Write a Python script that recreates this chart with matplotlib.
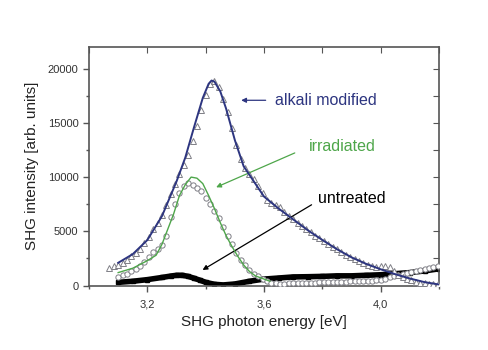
import matplotlib
matplotlib.use("Agg")
import matplotlib.pyplot as plt
from matplotlib.ticker import MultipleLocator, FuncFormatter

plt.rcParams['font.family'] = ['Liberation Sans', 'DejaVu Sans']

# alkali modified: measured points (open triangles) and fit (navy line)
alk_x = [3.070, 3.085, 3.100, 3.115, 3.130, 3.145, 3.160, 3.175, 3.190, 3.205, 3.220, 3.235,
         3.250, 3.265, 3.280, 3.295, 3.310, 3.325, 3.340, 3.355, 3.370, 3.385, 3.400, 3.415,
         3.430, 3.445, 3.460, 3.475, 3.490, 3.505, 3.520, 3.535, 3.550, 3.565, 3.580, 3.595,
         3.610, 3.625, 3.640, 3.655, 3.670, 3.685, 3.700, 3.715, 3.730, 3.745, 3.760, 3.775,
         3.790, 3.805, 3.820, 3.835, 3.850, 3.865, 3.880, 3.895, 3.910, 3.925, 3.940, 3.955,
         3.970, 3.985, 4.000, 4.015, 4.030, 4.045, 4.060, 4.075, 4.090, 4.105, 4.120, 4.135,
         4.150, 4.165, 4.180, 4.195]
alk_y = [1600, 1800, 1900, 2100, 2400, 2700, 3000, 3400, 3900, 4500, 5200, 5800,
         6500, 7400, 8400, 9400, 10300, 11100, 12000, 13300, 14700, 16200, 17600, 18600,
         18900, 18300, 17200, 16000, 14500, 13000, 11700, 10800, 10300, 9800, 9200, 8500,
         7900, 7600, 7400, 7200, 6800, 6400, 6100, 5800, 5500, 5200, 4900, 4600,
         4350, 4150, 3850, 3600, 3350, 3100, 2850, 2650, 2450, 2250, 2050, 1900,
         1800, 1750, 1850, 1850, 1700, 1300, 1000, 800, 650, 500, 350, 250,
         200, 150, 150, 150]
alk_fit_x = [3.10, 3.15, 3.20, 3.25, 3.30, 3.33, 3.36, 3.39, 3.41, 3.42, 3.43, 3.45,
             3.47, 3.50, 3.53, 3.56, 3.60, 3.65, 3.70, 3.75, 3.80, 3.85, 3.90, 3.95,
             4.00, 4.05, 4.10, 4.15, 4.20]
alk_fit_y = [2100, 2900, 4200, 6400, 9600, 11800, 14600, 17300, 18600, 18900, 18800, 17900,
             16300, 13400, 11000, 9800, 8200, 7100, 6100, 5100, 4200, 3350, 2600, 2000,
             1500, 1050, 650, 320, 100]

# irradiated: measured points (open circles) and fit (green line)
irr_x = [3.100, 3.115, 3.130, 3.145, 3.160, 3.175, 3.190, 3.205, 3.220, 3.235, 3.250, 3.265,
         3.280, 3.295, 3.310, 3.325, 3.340, 3.355, 3.370, 3.385, 3.400, 3.415, 3.430, 3.445,
         3.460, 3.475, 3.490, 3.505, 3.520, 3.535, 3.550, 3.565, 3.580, 3.595, 3.610, 3.625,
         3.640, 3.655, 3.670, 3.685, 3.700, 3.715, 3.730, 3.745, 3.760, 3.775, 3.790, 3.805,
         3.820, 3.835, 3.850, 3.865, 3.880, 3.895, 3.910, 3.925, 3.940, 3.955, 3.970, 3.985,
         4.000, 4.015, 4.030, 4.045, 4.060, 4.075, 4.090, 4.105, 4.120, 4.135, 4.150, 4.165,
         4.180, 4.195]
irr_y = [800, 950, 1100, 1300, 1550, 1850, 2200, 2600, 3100, 3400, 3700, 4600,
         6300, 7500, 8500, 9200, 9500, 9300, 9000, 8700, 8100, 7500, 6900, 6200,
         5400, 4600, 3800, 3000, 2400, 1900, 1450, 1100, 850, 600, 400, 250,
         200, 180, 180, 200, 200, 220, 230, 250, 260, 280, 300, 310,
         320, 340, 350, 360, 370, 380, 400, 410, 420, 440, 460, 500,
         550, 650, 750, 850, 950, 1050, 1150, 1250, 1350, 1450, 1550, 1650,
         1750, 1850]
irr_fit_x = [3.10, 3.15, 3.20, 3.23, 3.25, 3.27, 3.29, 3.31, 3.33, 3.35, 3.37, 3.39,
             3.41, 3.43, 3.45, 3.47, 3.49, 3.51, 3.53, 3.55, 3.57, 3.60, 3.62]
irr_fit_y = [1200, 1600, 2300, 2800, 3800, 5200, 6600, 8300, 9300, 10000, 9900, 9400,
             8300, 7100, 5800, 4600, 3600, 2700, 1900, 1300, 900, 600, 400]

# untreated: filled squares
unt_x = [3.10, 3.15, 3.20, 3.25, 3.28, 3.30, 3.32, 3.34, 3.36, 3.38, 3.40, 3.43,
         3.46, 3.50, 3.55, 3.60, 3.65, 3.70, 3.75, 3.80, 3.85, 3.90, 3.95, 4.00,
         4.05, 4.10, 4.15, 4.20]
unt_y = [300, 400, 550, 750, 880, 950, 950, 850, 680, 500, 300, 120,
         60, 150, 400, 600, 700, 800, 820, 850, 900, 900, 950, 1000,
         1100, 1200, 1350, 1550]

navy = '#2d3580'
green = '#4ea64a'
gray = '#7f7f86'

fig = plt.figure(figsize=(4.89, 3.5), dpi=100)
ax = fig.add_axes([0.182, 0.184, 0.716, 0.682])

ax.plot(unt_x, unt_y, color='black', lw=4, marker='s', ms=3, solid_capstyle='butt', zorder=2)
ax.plot(irr_x, irr_y, ls='none', marker='o', ms=3.8, mfc='white', mec=gray, mew=0.7, zorder=3)
ax.plot(irr_fit_x, irr_fit_y, color=green, lw=1.0, zorder=4)
ax.plot(alk_x, alk_y, ls='none', marker='^', ms=3.8, mfc='white', mec=gray, mew=0.7, zorder=3)
ax.plot(alk_fit_x, alk_fit_y, color=navy, lw=1.4, zorder=4)

ax.set_xlim(3.0, 4.2)
ax.set_ylim(0, 22000)
ax.xaxis.set_major_locator(MultipleLocator(0.4))
ax.xaxis.set_minor_locator(MultipleLocator(0.2))
ax.yaxis.set_major_locator(MultipleLocator(5000))
ax.yaxis.set_minor_locator(MultipleLocator(2500))
ax.xaxis.set_major_formatter(FuncFormatter(lambda v, p: f'{v:.1f}'.replace('.', ',')))

for s in ax.spines.values():
    s.set_color('#555555')
    s.set_linewidth(1.2)
ax.tick_params(which='both', direction='out', colors='#555555', labelcolor='#333333',
               labelsize=8, width=1.0)
ax.tick_params(which='major', length=4)
ax.tick_params(which='minor', length=2.5)
ax.tick_params(axis='x', which='major', pad=6)

# mirrored inward ticks on top and right
ax2 = ax.secondary_xaxis('top')
ax2.xaxis.set_major_locator(MultipleLocator(0.2))
ax2.tick_params(direction='in', length=4, colors='#555555', labeltop=False)
ax2.spines['top'].set_visible(False)
ax3 = ax.secondary_yaxis('right')
ax3.yaxis.set_major_locator(MultipleLocator(2500))
ax3.tick_params(direction='in', length=4, colors='#555555', labelright=False)
ax3.spines['right'].set_visible(False)

ax.set_xlabel('SHG photon energy [eV]', fontsize=11, color='#222222', labelpad=4)
ax.set_ylabel('SHG intensity [arb. units]', fontsize=11, color='#222222', labelpad=6)

ax.annotate('', xy=(3.512, 17080), xytext=(3.615, 17080),
            arrowprops=dict(arrowstyle='-|>', color=navy, lw=0.9, mutation_scale=7))
ax.text(3.639, 17080, 'alkali modified', color=navy, fontsize=11.5, va='center', ha='left')

ax.annotate('', xy=(3.427, 8960), xytext=(3.714, 12330),
            arrowprops=dict(arrowstyle='-|>', color=green, lw=0.9, mutation_scale=7))
ax.text(3.752, 12790, 'irradiated', color=green, fontsize=11.5, va='center', ha='left')

ax.annotate('', xy=(3.381, 1310), xytext=(3.771, 7580),
            arrowprops=dict(arrowstyle='-|>', color='black', lw=0.9, mutation_scale=7))
ax.text(3.786, 8040, 'untreated', color='black', fontsize=11.5, va='center', ha='left')

fig.savefig('out.png', dpi=100)
